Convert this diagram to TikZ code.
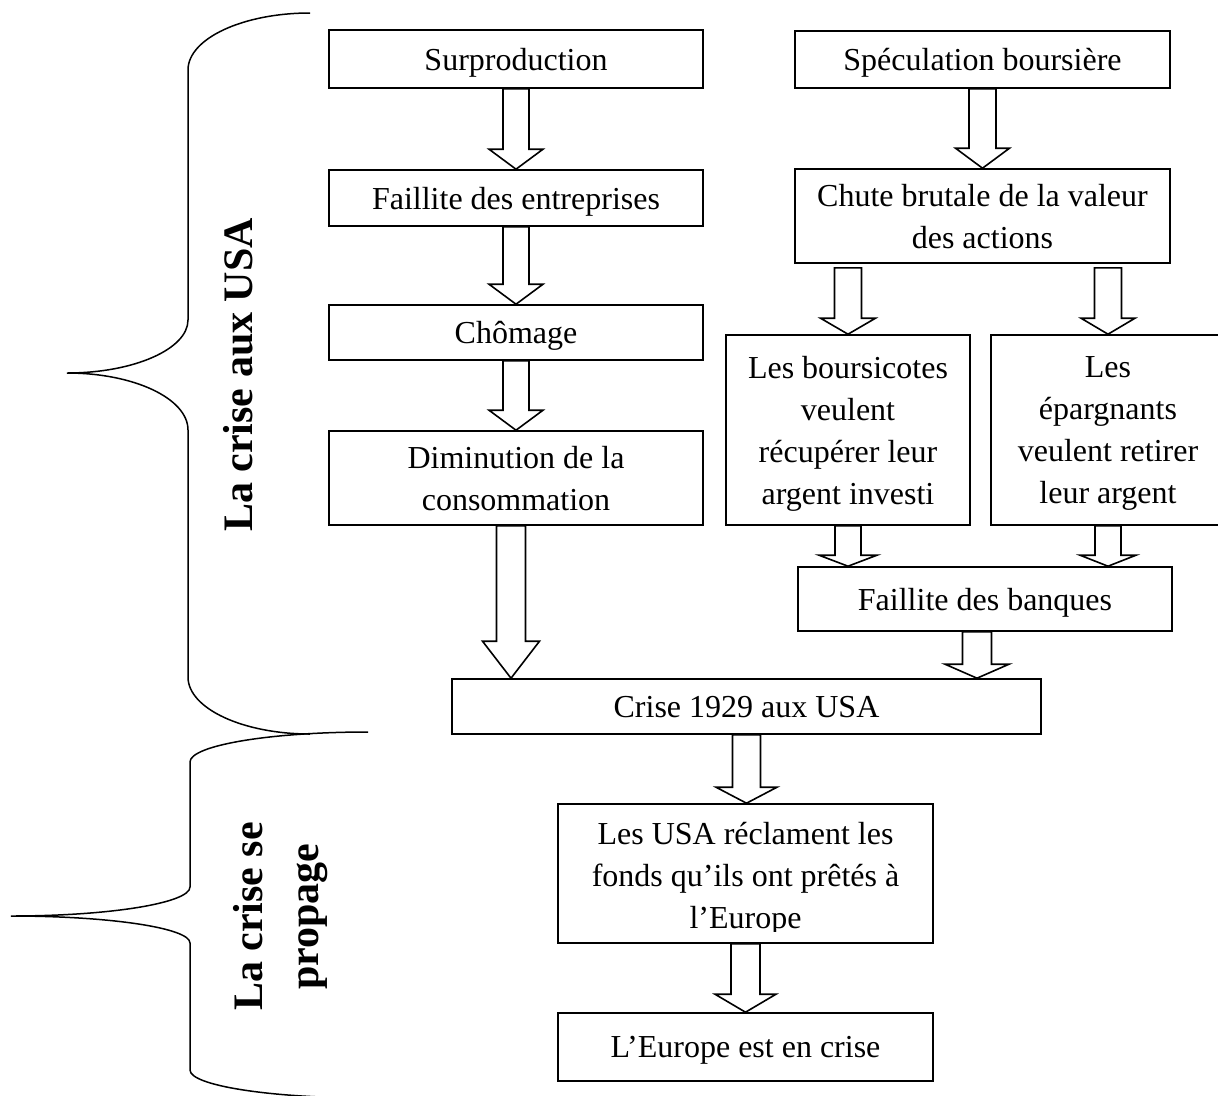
\documentclass[tikz,border=0pt]{standalone}
\usepackage{fontspec}
\setmainfont{Liberation Serif}
\usetikzlibrary{calc}
\newcommand\bxfont{\fontsize{32}{42}\selectfont}
\newcommand\lblfont{\fontsize{42}{56}\selectfont\bfseries}

\begin{document}
\begin{tikzpicture}[x=1pt,y=-1pt,
  box/.style={draw, line width=1.6pt, inner sep=0pt, align=center,
    text depth=0pt, font=\bxfont},
  barrow/.style n args={3}{draw, fill=white, line width=1.6pt, line join=miter,
    to path={let \p1=(\tikztostart), \p2=(\tikztotarget) in
      (\x1-#1,\y1) -- (\x1-#1,\y2+#3) -- (\x1-#2,\y2+#3) -- (\x1,\y2)
      -- (\x1+#2,\y2+#3) -- (\x1+#1,\y2+#3) -- (\x1+#1,\y1) -- cycle}},
  brace/.style={line width=1.5pt},
  label/.style={font=\lblfont, rotate=90, inner sep=0pt}]

\useasboundingbox (0,0) rectangle (1218,1095);
\clip (0,0) rectangle (1218,1095);

% left chain: over-production
\node[box, minimum width=374, minimum height=58] (surp) at (516,59) {Surproduction};
\node[box, minimum width=374, minimum height=56] (fent) at (516,198) {Faillite des entreprises};
\node[box, minimum width=374, minimum height=55] (chom) at (516,332.5) {Chômage};
\node[box, minimum width=374, minimum height=94] (dimi) at (516,478) {Diminution de la\\consommation};

% right chain: stock market
\node[box, minimum width=375, minimum height=57] (spec) at (982.5,59.5) {Spéculation boursière};
\node[box, minimum width=375, minimum height=94] (chute) at (982.5,216) {Chute brutale de la valeur\\des actions};
\node[box, minimum width=244, minimum height=190] (bours) at (848,430) {Les boursicotes\\veulent\\récupérer leur\\argent investi};
\node[box, minimum width=234, minimum height=190] (epar) at (1108,430) {Les\\épargnants\\veulent retirer\\leur argent};
\node[box, minimum width=374, minimum height=64] (banq) at (985,599) {Faillite des banques};

% crisis and its spread
\node[box, minimum width=589, minimum height=55] (crise) at (746.5,706.5) {Crise 1929 aux USA};
\node[box, minimum width=375, minimum height=139] (usa) at (745.5,873.5) {};
\begin{scope}
  \clip (558,805) rectangle (933,931.5);
  \node[font=\bxfont, align=center, inner sep=0pt, text depth=0pt, anchor=south]
    (usatext) at (745.5,929) {Les USA réclament les\\fonds qu’ils ont prêtés à\\l’Europe};
\end{scope}
\node[box, minimum width=375, minimum height=68] (europe) at (745.5,1047) {L’Europe est en crise};

% block arrows
\draw[barrow={13pt}{27pt}{20pt}] (surp.south) to (fent.north);
\draw[barrow={13pt}{27pt}{20pt}] (fent.south) to (chom.north);
\draw[barrow={13pt}{27pt}{20pt}] (chom.south) to (dimi.north);
\draw[barrow={13.5pt}{27pt}{20pt}] (spec.south) to (chute.north);
\draw[barrow={13.5pt}{27.5pt}{16pt}] ($(chute.south -| bours.north)+(0,4)$) to (bours.north);
\draw[barrow={13.5pt}{27pt}{16pt}] ($(chute.south -| epar.north)+(0,4)$) to (epar.north);
\draw[barrow={13pt}{29pt}{11pt}] (bours.south) to (banq.north);
\draw[barrow={13pt}{28pt}{11pt}] (epar.south) to (banq.north);
\draw[barrow={14.5pt}{28.5pt}{37pt}] ($(dimi.south)+(-5,0)$) to (crise.north);
\draw[barrow={14.5pt}{32pt}{14pt}] ($(banq.south)+(-8,0)$) to (crise.north);
\draw[barrow={14pt}{30.5pt}{16pt}] (crise.south) to (usa.north);
\draw[barrow={14.5pt}{30.5pt}{18pt}] (usa.south) to (europe.north);

% curly braces
\draw[brace] (310,13) .. controls (243,13) and (188,38.5) .. (188,70)
  -- (188,320) .. controls (188,349) and (134,373) .. (67,373)
  .. controls (134,373) and (188,398.5) .. (188,430)
  -- (188,677) .. controls (188,708.5) and (243,734) .. (310,734);
\draw[brace] (368,732) .. controls (270,732) and (190,745.4) .. (190,762)
  -- (190,887) .. controls (190,903) and (110,916) .. (11,916)
  .. controls (110,916) and (190,928) .. (190,943)
  -- (190,1070) .. controls (190,1085.5) and (270,1098) .. (368,1098);

% side labels
\node[label, anchor=base] (lblusa) at (252,375) {La crise aux USA};
\node[label, anchor=south, align=center, text depth=0pt] (lblprop) at (319,916.5) {La crise se\\propage};
\end{tikzpicture}
\end{document}
